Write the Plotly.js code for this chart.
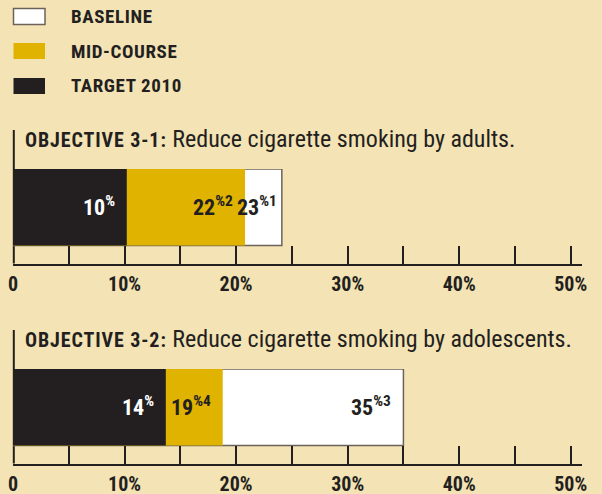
<!DOCTYPE html>
<html>
<head>
<meta charset="utf-8">
<script src="https://cdn.plot.ly/plotly-3.0.1.min.js"></script>
<style>html,body{margin:0;padding:0;background:#f3e3b5;}#chart{width:602px;height:494px;}</style>
</head>
<body>
<div id="chart"></div>
<script>
// ---- data ----
const objectives   = ["OBJECTIVE 3-1:", "OBJECTIVE 3-2:"];
const descriptions = ["Reduce cigarette smoking by adults.", "Reduce cigarette smoking by adolescents."];
const seriesNames  = ["BASELINE", "MID-COURSE", "TARGET 2010"];
// bar lengths as drawn (percent)
const baseline  = [24.1, 35.0];
const midcourse = [20.8, 18.8];
const target    = [10.2, 13.7];
// printed labels and footnote markers
const baselineText  = ["23", "35"];
const baselineNote  = ["%1", "%3"];
const midcourseText = ["22", "19"];
const midcourseNote = ["%2", "%4"];
const targetText    = ["10", "14"];
const targetNote    = ["%", "%"];
const tickVals = [0, 10, 20, 30, 40, 50];
const tickText = ["0", "10%", "20%", "30%", "40%", "50%"];

// ---- styling ----
const W = 602, H = 494;
const BG = "#f3e3b5", DARK = "#231f20", GOLD = "#dfb300", WHITE = "#ffffff", OUTLINE = "#6b6358";
const NARROW = '"Roboto Condensed", "Liberation Sans Narrow", "DejaVu Sans Condensed", sans-serif';
const py = p => 1 - p / H;
const px = p => p / W;

const series = [
  {name: seriesNames[0], vals: baseline,  text: baselineText,  note: baselineNote,  color: WHITE, line: {color: OUTLINE, width: 1.5}, tcolor: DARK},
  {name: seriesNames[1], vals: midcourse, text: midcourseText, note: midcourseNote, color: GOLD,  line: {width: 0}, tcolor: DARK},
  {name: seriesNames[2], vals: target,    text: targetText,    note: targetNote,    color: DARK,  line: {width: 0}, tcolor: WHITE}
];

const panels = [
  {xa: "x",  ya: "y",  top: 169, axis: 263.5, titleY: 139},
  {xa: "x2", ya: "y2", top: 369, axis: 463.5, titleY: 339}
];

const xDomain = [px(13), px(582)];
const traces = [];
const annotations = [];
const shapes = [];

panels.forEach((p, k) => {
  series.forEach((s, si) => {
    traces.push({
      type: "bar", orientation: "h",
      x: [s.vals[k]], y: [0], width: 1,
      xaxis: p.xa, yaxis: p.ya,
      marker: {color: s.color, line: s.line},
      hoverinfo: "skip", showlegend: false
    });
    const next = si < series.length - 1 ? series[si + 1].vals[k] : 0;
    const pad = (s.vals[k] - next) < 5 ? 3 : 10;
    annotations.push({
      xref: p.xa, yref: p.ya, x: s.vals[k], y: 0,
      xanchor: "right", yanchor: "middle", xshift: -pad, yshift: 1, showarrow: false,
      text: "<b>" + s.text[k] + "<sup>" + s.note[k] + "</sup></b>",
      font: {family: NARROW, size: 22, color: s.tcolor}
    });
  });
  annotations.push({
    xref: "paper", yref: "paper", x: px(23), y: py(p.titleY),
    xanchor: "left", yanchor: "middle", showarrow: false,
    text: '<span style="letter-spacing:0.9px"><b>' + objectives[k] + '</b></span><span style="font-size:24px"> ' + descriptions[k] + '</span>',
    font: {family: NARROW, size: 20, color: DARK}
  });
  shapes.push({
    type: "line", xref: "paper", yref: "paper",
    x0: px(13.8), x1: px(13.8), y0: py(p.titleY - 9), y1: py(p.axis),
    line: {color: DARK, width: 2}, layer: "below"
  });
});

const legendY = [16.5, 51, 86];
series.forEach((s, i) => {
  shapes.push({
    type: "rect", xref: "paper", yref: "paper",
    x0: px(13.5), x1: px(45), y0: py(legendY[i] - 8), y1: py(legendY[i] + 8),
    fillcolor: s.color, line: s.color === WHITE ? {color: OUTLINE, width: 1.5} : {width: 0}
  });
  annotations.push({
    xref: "paper", yref: "paper", x: px(69), y: py(legendY[i]),
    xanchor: "left", yanchor: "middle", showarrow: false,
    text: '<span style="letter-spacing:0.6px"><b>' + s.name + '</b></span>',
    font: {family: NARROW, size: 19, color: DARK}
  });
});

function xaxisDef(p) {
  const spanPx = 582 - 13;
  return {
    domain: xDomain, range: [0, spanPx / 11.155], anchor: p.ya,
    fixedrange: true, zeroline: false, showgrid: false,
    showline: true, linecolor: DARK, linewidth: 2,
    tickmode: "array", tickvals: tickVals, ticktext: tickText,
    ticks: "inside", ticklen: 18, tickwidth: 2, tickcolor: DARK,
    ticklabelstandoff: 1,
    tickfont: {family: NARROW, size: 20, color: DARK, weight: "bold"},
    minor: {tickmode: "linear", tick0: 0, dtick: 5, ticks: "inside", ticklen: 18, tickwidth: 2, tickcolor: DARK, showgrid: false}
  };
}
function yaxisDef(p) {
  const bar = (p.axis - 18) - p.top;
  const extra = 18 / bar;
  return {
    domain: [py(p.axis), py(p.top)], range: [-0.5 - extra, 0.5], anchor: p.xa,
    visible: false, fixedrange: true
  };
}

const layout = {
  width: W, height: H,
  margin: {l: 0, r: 0, t: 0, b: 0},
  paper_bgcolor: BG, plot_bgcolor: BG,
  barmode: "overlay", showlegend: false,
  xaxis: xaxisDef(panels[0]), yaxis: yaxisDef(panels[0]),
  xaxis2: xaxisDef(panels[1]), yaxis2: yaxisDef(panels[1]),
  annotations: annotations, shapes: shapes,
  font: {family: NARROW, color: DARK}
};

Plotly.newPlot("chart", traces, layout, {staticPlot: true, displayModeBar: false});
</script>
</body>
</html>
